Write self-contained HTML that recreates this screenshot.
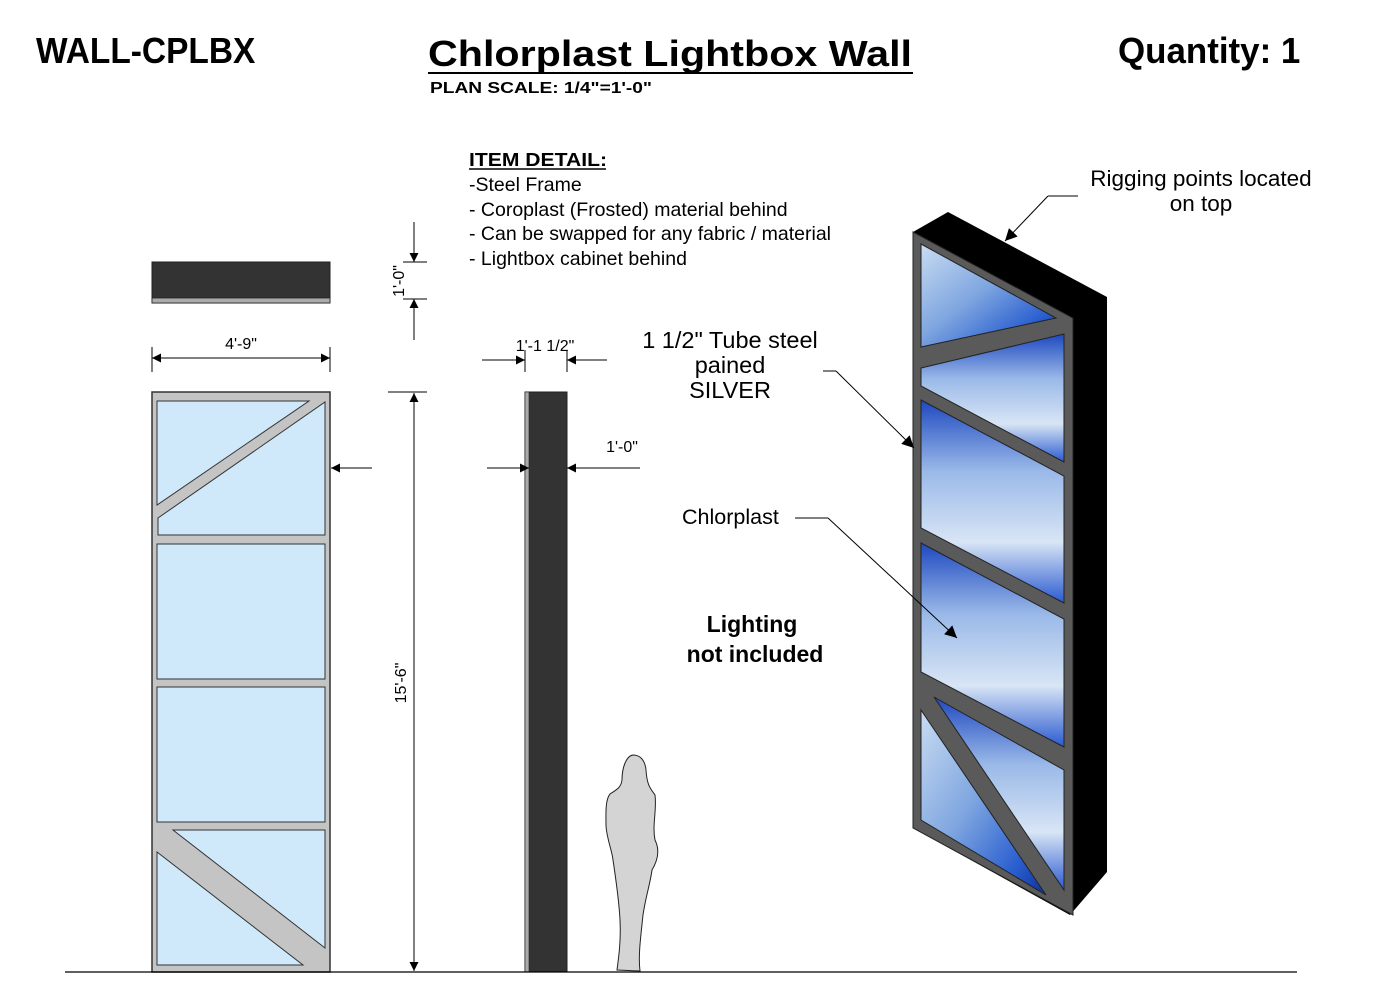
<!DOCTYPE html>
<html><head><meta charset="utf-8"><style>
html,body{margin:0;padding:0;background:#fff}
svg{display:block}
text{font-family:"Liberation Sans",Arial,sans-serif}
</style></head><body>
<svg width="1394" height="1005" viewBox="0 0 1394 1005" xmlns="http://www.w3.org/2000/svg">
<defs>
<marker id="ah" viewBox="0 0 10 10" refX="10" refY="5" markerWidth="20" markerHeight="9" markerUnits="userSpaceOnUse" orient="auto"><path d="M0,0 L10,5 L0,10 Z" fill="#000"/></marker>
<marker id="ahv" viewBox="0 0 10 10" refX="10" refY="5" markerWidth="18" markerHeight="12" markerUnits="userSpaceOnUse" orient="auto"><path d="M0,0 L10,5 L0,10 Z" fill="#000"/></marker>
<linearGradient id="blu" x1="0" y1="0" x2="1" y2="1">
<stop offset="0" stop-color="#c9dcf2"/><stop offset="0.45" stop-color="#7fa6e0"/><stop offset="0.8" stop-color="#2a5fd0"/><stop offset="1" stop-color="#0d2f9c"/></linearGradient>
<linearGradient id="blu2" x1="0" y1="0" x2="0" y2="1">
<stop offset="0" stop-color="#1e48c0"/><stop offset="0.35" stop-color="#9ab9e8"/><stop offset="0.7" stop-color="#d8e5f5"/><stop offset="1" stop-color="#2a5ad0"/></linearGradient>
</defs>

<!-- Header -->
<text x="36" y="63" font-size="36" font-weight="bold" transform="translate(36,0) scale(0.93,1) translate(-36,0)">WALL-CPLBX</text>
<text x="1118" y="63" font-size="36" font-weight="bold" transform="translate(1118,0) scale(0.97,1) translate(-1118,0)">Quantity: 1</text>
<text x="428" y="66" font-size="36" font-weight="bold" textLength="484" lengthAdjust="spacingAndGlyphs">Chlorplast Lightbox Wall</text>
<line x1="428" y1="73" x2="913" y2="73" stroke="#000" stroke-width="2"/>
<text x="430" y="93" font-size="16" font-weight="bold" textLength="222" lengthAdjust="spacingAndGlyphs">PLAN  SCALE: 1/4"=1'-0"</text>

<!-- Item detail -->
<text x="469" y="166" font-size="18" font-weight="bold" textLength="138" lengthAdjust="spacingAndGlyphs">ITEM DETAIL:</text>
<line x1="469" y1="169" x2="606" y2="169" stroke="#000" stroke-width="1.5"/>
<text font-size="19.5"><tspan x="469" y="191">-Steel Frame</tspan><tspan x="469" y="216">- Coroplast (Frosted) material behind</tspan><tspan x="469" y="240">- Can be swapped for any fabric / material</tspan><tspan x="469" y="265">- Lightbox cabinet behind</tspan></text>

<!-- Plan top view -->
<rect x="152" y="262" width="178" height="41" fill="#333" stroke="#222"/>
<rect x="152" y="298" width="178" height="5" fill="#aaa" stroke="#222" stroke-width="0.8"/>

<!-- 4'-9" dim -->
<line x1="152" y1="347" x2="152" y2="372" stroke="#000"/>
<line x1="330" y1="347" x2="330" y2="372" stroke="#000"/>
<line x1="200" y1="358" x2="152" y2="358" stroke="#000" marker-end="url(#ah)"/>
<line x1="200" y1="358" x2="330" y2="358" stroke="#000" marker-end="url(#ah)"/>
<text x="241" y="349" font-size="16" text-anchor="middle">4'-9"</text>

<!-- Front elevation -->
<rect x="152" y="392" width="178" height="580" fill="#c4c4c4" stroke="#333" stroke-width="1.5"/>
<g fill="#cfe9fb" stroke="#333" stroke-width="1">
<polygon points="157,401 309,401 157,505"/>
<polygon points="325,402 325,535 158,535 158,518"/>
<rect x="157" y="544" width="168" height="135"/>
<rect x="157" y="687" width="168" height="135"/>
<polygon points="157,852 157,965 303,965"/>
<polygon points="173,830 325,830 325,948"/>
</g>
<line x1="372" y1="468" x2="331" y2="468" stroke="#000" marker-end="url(#ah)"/>

<!-- Vertical dims -->
<line x1="388" y1="392" x2="427" y2="392" stroke="#000"/>
<line x1="388" y1="972" x2="427" y2="972" stroke="#000"/>
<line x1="414" y1="680" x2="414" y2="393" stroke="#000" marker-end="url(#ah)"/>
<line x1="414" y1="680" x2="414" y2="971" stroke="#000" marker-end="url(#ah)"/>
<text transform="translate(406,683) rotate(-90)" font-size="16" text-anchor="middle">15'-6"</text>
<line x1="403" y1="262" x2="427" y2="262" stroke="#000"/>
<line x1="403" y1="299" x2="427" y2="299" stroke="#000"/>
<line x1="414" y1="222" x2="414" y2="262" stroke="#000" marker-end="url(#ah)"/>
<line x1="414" y1="340" x2="414" y2="299" stroke="#000" marker-end="url(#ah)"/>
<text transform="translate(404,281) rotate(-90)" font-size="16" text-anchor="middle">1'-0"</text>

<!-- Side view -->
<rect x="525" y="392" width="42" height="580" fill="#333" stroke="#222"/>
<rect x="525" y="392" width="4" height="580" fill="#aaa" stroke="#222" stroke-width="0.6"/>
<line x1="525" y1="350" x2="525" y2="372" stroke="#000"/>
<line x1="567" y1="350" x2="567" y2="372" stroke="#000"/>
<line x1="482" y1="360" x2="525" y2="360" stroke="#000" marker-end="url(#ah)"/>
<line x1="607" y1="360" x2="567" y2="360" stroke="#000" marker-end="url(#ah)"/>
<text x="545" y="351" font-size="16" text-anchor="middle">1'-1 1/2"</text>
<line x1="487" y1="468" x2="529" y2="468" stroke="#000" marker-end="url(#ah)"/>
<line x1="640" y1="468" x2="567" y2="468" stroke="#000" marker-end="url(#ah)"/>
<text x="622" y="452" font-size="16" text-anchor="middle">1'-0"</text>

<!-- Person -->
<path d="M633,755 C626,756 622,768 622,780 C621,788 616,790 610,794 C605,800 606,815 606,826 C607,840 612,850 613,860 C616,880 619,900 620,920 C621,940 619,955 617,970 L640,971 C638,955 641,935 643,915 C646,895 650,885 652,870 C658,860 660,850 655,840 C652,825 657,810 655,795 C650,788 647,785 646,770 C645,760 640,755 633,755 Z" fill="#d4d4d4" stroke="#222" stroke-width="1"/>

<!-- Ground -->
<line x1="65" y1="972" x2="1297" y2="972" stroke="#000" stroke-width="1.2"/>

<!-- Isometric -->
<polygon points="913,232 948,212 1107,297 1107,872 1070,915 913,828" fill="#000"/>
<polygon points="913,232 1073,318 1073,915 913,828" fill="#5a5a5a" stroke="#222" stroke-width="1"/>
<g stroke="#222" stroke-width="1">
<polygon points="921,244 1056,318 921,347" fill="url(#blu)"/>
<polygon points="921,368 1064,334 1064,462 921,386" fill="url(#blu2)"/>
<polygon points="921,400 1064,476 1064,603 921,528" fill="url(#blu2)"/>
<polygon points="921,543 1064,619 1064,747 921,672" fill="url(#blu2)"/>
<polygon points="921,710 1046,895 921,820" fill="url(#blu)"/>
<polygon points="934,697 1064,770 1064,890" fill="url(#blu2)"/>
</g>

<!-- Leaders -->
<line x1="1078" y1="196" x2="1048" y2="196" stroke="#000"/>
<line x1="1048" y1="196" x2="1005" y2="241" stroke="#000" marker-end="url(#ahv)"/>
<text x="1201" y="186" font-size="22.5" text-anchor="middle">Rigging points located</text>
<text x="1201" y="211" font-size="22.5" text-anchor="middle">on top</text>

<text x="730" y="348" font-size="23.5" text-anchor="middle">1 1/2" Tube steel</text>
<text x="730" y="373" font-size="23.5" text-anchor="middle">pained</text>
<text x="730" y="398" font-size="23.5" text-anchor="middle">SILVER</text>
<line x1="823" y1="371" x2="836" y2="371" stroke="#000"/>
<line x1="836" y1="371" x2="914" y2="448" stroke="#000" marker-end="url(#ahv)"/>

<text x="682" y="524" font-size="21.5">Chlorplast</text>
<line x1="795" y1="518" x2="828" y2="518" stroke="#000"/>
<line x1="828" y1="518" x2="957" y2="638" stroke="#000" marker-end="url(#ahv)"/>

<text x="752" y="632" font-size="23" font-weight="bold" text-anchor="middle">Lighting</text>
<text x="755" y="662" font-size="23" font-weight="bold" text-anchor="middle">not included</text>
</svg>
</body></html>
